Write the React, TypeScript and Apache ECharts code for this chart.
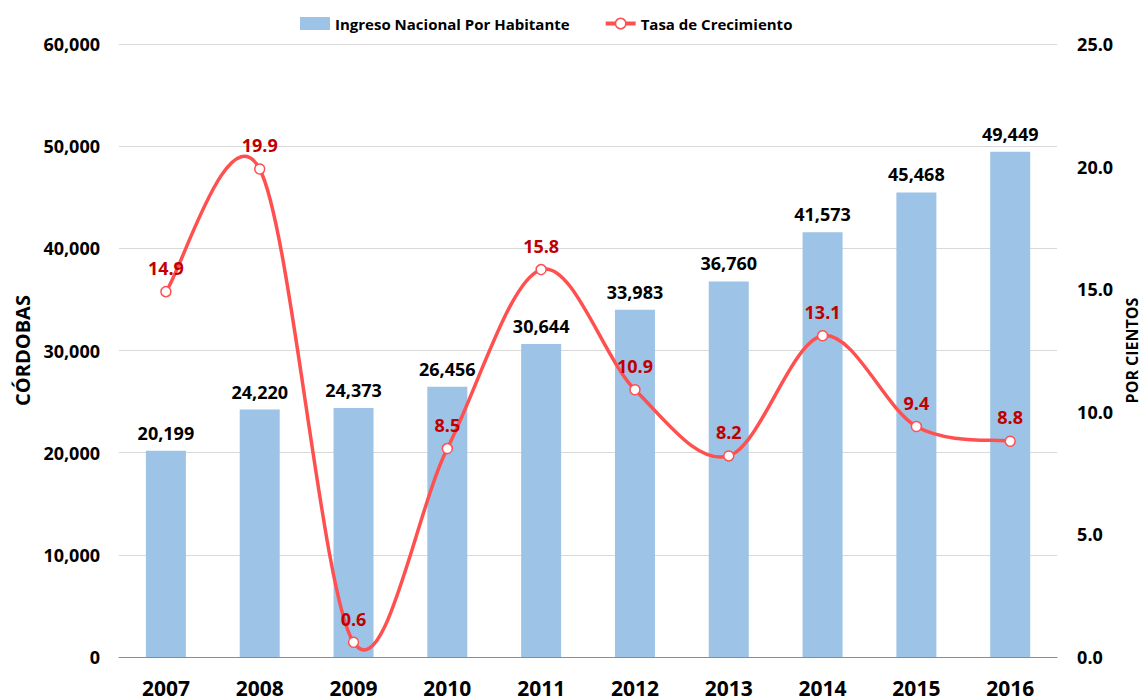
import React, { useEffect, useRef } from "react";
import * as echarts from "echarts";

const years = ["2007", "2008", "2009", "2010", "2011", "2012", "2013", "2014", "2015", "2016"];
const ingreso = [20199, 24220, 24373, 26456, 30644, 33983, 36760, 41573, 45468, 49449];
const tasa = [14.9, 19.9, 0.6, 8.5, 15.8, 10.9, 8.2, 13.1, 9.4, 8.8];

const FONT = "'Open Sans', 'Noto Sans', sans-serif";
const LINE_COLOR = "#FF5050";

export default function App() {
  const ref = useRef<HTMLDivElement>(null);
  useEffect(() => {
    if (!ref.current) return;
    document.body.style.margin = "0";
    document.body.style.overflow = "hidden";
    const chart = echarts.init(ref.current, undefined, { renderer: "svg" });
    const n = tasa.length;
    chart.setOption({
      animation: false,
      textStyle: { fontFamily: FONT },
      legend: {
        top: 11,
        left: 295,
        itemGap: 34,
        itemWidth: 30,
        itemHeight: 13,
        textStyle: { fontFamily: FONT, fontWeight: "bold", fontSize: 15, color: "#000" },
        data: [
          { name: "Ingreso Nacional Por Habitante", icon: "rect" },
          {
            name: "Tasa de Crecimiento",
            lineStyle: { color: LINE_COLOR, width: 4, opacity: 1 },
            itemStyle: { color: "#fff", borderColor: LINE_COLOR, borderWidth: 1.5 },
          },
        ],
      },
      grid: { left: 119, right: 88, top: 44, bottom: 43, containLabel: false },
      xAxis: {
        type: "category",
        data: years,
        axisLine: { lineStyle: { color: "#8c8c8c", width: 1 } },
        axisTick: { show: false },
        axisLabel: { color: "#000", fontWeight: "bold", fontSize: 21, margin: 20, fontFamily: FONT },
      },
      yAxis: [
        {
          type: "value",
          min: 0,
          max: 60000,
          interval: 10000,
          name: "CÓRDOBAS",
          nameLocation: "middle",
          nameGap: 84,
          nameTextStyle: { color: "#000", fontWeight: "bold", fontSize: 20, fontFamily: FONT },
          axisLine: { show: false },
          axisTick: { show: false },
          axisLabel: {
            color: "#000",
            fontWeight: "bold",
            fontSize: 18,
            margin: 19,
            fontFamily: FONT,
            formatter: (v: number) => v.toLocaleString("en-US"),
          },
          splitLine: { lineStyle: { color: "#d9d9d9" } },
        },
        {
          type: "value",
          min: 0,
          max: 25,
          interval: 5,
          name: "POR CIENTOS",
          nameLocation: "middle",
          nameGap: 65,
          nameRotate: 90,
          nameTextStyle: { color: "#000", fontWeight: "bold", fontSize: 16, fontFamily: FONT },
          axisLine: { show: false },
          axisTick: { show: false },
          axisLabel: {
            color: "#000",
            fontWeight: "bold",
            fontSize: 18,
            margin: 20,
            fontFamily: FONT,
            formatter: (v: number) => v.toFixed(1),
          },
          splitLine: { show: false },
        },
      ],
      series: [
        {
          name: "Ingreso Nacional Por Habitante",
          type: "bar",
          data: ingreso,
          barWidth: 40,
          itemStyle: { color: "#9DC3E6" },
          label: {
            show: true,
            position: "top",
            distance: 9,
            color: "#000",
            fontWeight: "bold",
            fontSize: 18,
            fontFamily: FONT,
            formatter: (p: any) => Number(p.value).toLocaleString("en-US"),
          },
        },
        {
          name: "Tasa curve",
          type: "custom",
          yAxisIndex: 1,
          data: tasa.map((v, i) => [i, v]),
          encode: { x: 0, y: 1 },
          silent: true,
          z: 4,
          renderItem: (params: any, api: any) => {
            const i = api.value(0);
            if (i >= n - 1) return { type: "group", children: [] };
            const P = (k: number) => {
              const kk = Math.max(0, Math.min(n - 1, k));
              return api.coord([kk, tasa[kk]]);
            };
            const p0 = P(i - 1);
            const p1 = P(i);
            const p2 = P(i + 1);
            const p3 = P(i + 2);
            const t = 1 / 6;
            return {
              type: "bezierCurve",
              shape: {
                x1: p1[0],
                y1: p1[1],
                x2: p2[0],
                y2: p2[1],
                cpx1: p1[0] + (p2[0] - p0[0]) * t,
                cpy1: p1[1] + (p2[1] - p0[1]) * t,
                cpx2: p2[0] - (p3[0] - p1[0]) * t,
                cpy2: p2[1] - (p3[1] - p1[1]) * t,
              },
              style: { stroke: LINE_COLOR, lineWidth: 3.5, fill: "none" },
            };
          },
        },
        {
          name: "Tasa de Crecimiento",
          type: "line",
          yAxisIndex: 1,
          data: tasa,
          symbol: "circle",
          symbolSize: 10,
          lineStyle: { width: 3.5, color: LINE_COLOR, opacity: 0 },
          itemStyle: { color: "#fff", borderColor: LINE_COLOR, borderWidth: 1.5 },
          label: {
            show: true,
            position: "top",
            distance: 9,
            color: "#C00000",
            fontWeight: "bold",
            fontSize: 18,
            fontFamily: FONT,
            formatter: (p: any) => Number(p.value).toFixed(1),
          },
          z: 5,
        },
      ],
    });
    return () => chart.dispose();
  }, []);
  return <div ref={ref} style={{ width: 1148, height: 700 }} />;
}
